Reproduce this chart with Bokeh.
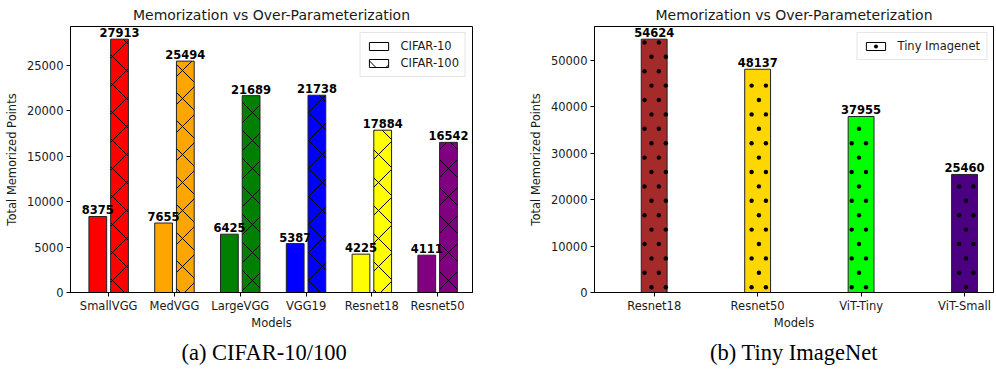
import numpy as np
from bokeh.plotting import figure
from bokeh.models import (Range1d, FixedTicker, SingleIntervalTicker, ColumnDataSource,
                          LabelSet, Legend, LegendItem, Title)
from bokeh.core.properties import value
from bokeh.layouts import row
from bokeh.embed import file_html
from bokeh.resources import INLINE

# ---------------- data ----------------
cifar_models = ["SmallVGG", "MedVGG", "LargeVGG", "VGG19", "Resnet18", "Resnet50"]
cifar10_points = [8375, 7655, 6425, 5387, 4225, 4111]
cifar100_points = [27913, 25494, 21689, 21738, 17884, 16542]
cifar_colors = ["red", "orange", "green", "blue", "yellow", "purple"]

tiny_models = ["Resnet18", "Resnet50", "ViT-Tiny", "ViT-Small"]
tiny_points = [54624, 48137, 37955, 25460]
tiny_colors = ["brown", "gold", "lime", "indigo"]

FONT = "DejaVu Sans"
TXT = "#1a1a1a"
H = 370
TOP, BOTTOM = 26, 78


def style(p):
    p.outline_line_color = "black"
    p.outline_line_width = 1
    p.grid.visible = False
    p.title.text_font = FONT
    p.title.text_font_size = "14px"
    p.title.text_font_style = "normal"
    p.title.text_color = TXT
    p.title.align = "center"
    p.title.standoff = 8
    for ax in (p.xaxis[0], p.yaxis[0]):
        ax.axis_line_color = "black"
        ax.major_tick_line_color = "black"
        ax.major_tick_out = 4
        ax.major_tick_in = 0
        ax.minor_tick_line_color = None
        ax.major_label_text_font = FONT
        ax.major_label_text_font_size = "11.5px"
        ax.major_label_text_color = TXT
        ax.major_label_standoff = 3
        ax.axis_label_text_font = FONT
        ax.axis_label_text_font_size = "11.5px"
        ax.axis_label_text_font_style = "normal"
        ax.axis_label_text_color = TXT
        ax.axis_label_standoff = 5
    p.xaxis.major_label_standoff = 2
    p.xaxis.axis_label_standoff = 0


def caption(p, text, align, offset):
    p.add_layout(Title(text=text, align=align, offset=offset, text_font="Liberation Serif",
                       text_font_size="22.5px", text_font_style="normal",
                       text_color="black", standoff=10), "below")


def legend(items):
    return Legend(items=items, location="top_right", margin=6, padding=6, spacing=3,
                  glyph_width=24, glyph_height=10, label_standoff=10,
                  label_text_font=FONT, label_text_font_size="11.5px",
                  label_text_color=TXT, border_line_color="#cccccc", label_height=14)


# ---------------- left panel ----------------
n1 = len(cifar_models)
idx1 = list(range(n1))
x10 = [i - 0.165 for i in idx1]
x100 = [i + 0.165 for i in idx1]

p1 = figure(width=500, height=H, output_backend="svg", toolbar_location=None,
            title="Memorization vs Over-Parameterization",
            x_range=Range1d(-0.58, n1 - 1 + 0.53),
            y_range=Range1d(0, max(cifar100_points) * 1.05),
            min_border_left=70, min_border_right=28, min_border_top=TOP,
            min_border_bottom=BOTTOM)
style(p1)

s10 = ColumnDataSource(dict(x=x10, top=cifar10_points, color=cifar_colors,
                            lab=[str(v) for v in cifar10_points]))
s100 = ColumnDataSource(dict(x=x100, top=cifar100_points, color=cifar_colors,
                             lab=[str(v) for v in cifar100_points]))
p1.vbar(x="x", top="top", width=0.27, source=s10, fill_color="color",
        line_color="#222222", line_width=1)
p1.vbar(x="x", top="top", width=0.27, source=s100, fill_color="color",
        line_color="#222222", line_width=1, hatch_pattern="diagonal_cross",
        hatch_color="black", hatch_scale=28, hatch_weight=1)

for s in (s10, s100):
    p1.add_layout(LabelSet(x="x", y="top", text="lab", source=s, text_align="center",
                           text_baseline="alphabetic", y_offset=2, text_font=value(FONT),
                           text_font_size=value("11.5px"), text_font_style="bold",
                           text_color="black"))

nan = float("nan")
leg1 = ColumnDataSource(dict(x=[nan], top=[nan]))
r_a = p1.vbar(x="x", top="top", width=0.27, source=leg1, fill_color="white",
              line_color="black")
r_b = p1.vbar(x="x", top="top", width=0.27, source=leg1, fill_color="white",
              line_color="black", hatch_pattern="diagonal_cross", hatch_color="black",
              hatch_scale=28, hatch_weight=1)
p1.add_layout(legend([LegendItem(label="CIFAR-10", renderers=[r_a]),
                      LegendItem(label="CIFAR-100", renderers=[r_b])]))

p1.xaxis.ticker = FixedTicker(ticks=idx1)
p1.xaxis.major_label_overrides = {i: m for i, m in enumerate(cifar_models)}
p1.yaxis.ticker = SingleIntervalTicker(interval=5000)
p1.xaxis.axis_label = "Models"
p1.yaxis.axis_label = "Total Memorized Points"
caption(p1, "(a) CIFAR-10/100", "left", 111)

# ---------------- right panel ----------------
n2 = len(tiny_models)
idx2 = list(range(n2))
W2, L2, R2 = 496, 94, 3
X0, X1 = -0.577, n2 - 1 + 0.28
Y1 = max(tiny_points) * 1.05
BW = 0.25

p2 = figure(width=W2, height=H, output_backend="svg", toolbar_location=None,
            title="Memorization vs Over-Parameterization",
            x_range=Range1d(X0, X1), y_range=Range1d(0, Y1),
            min_border_left=L2, min_border_right=R2, min_border_top=TOP,
            min_border_bottom=BOTTOM)
style(p2)

st = ColumnDataSource(dict(x=idx2, top=tiny_points, color=tiny_colors,
                           lab=[str(v) for v in tiny_points]))
p2.vbar(x="x", top="top", width=BW, source=st, fill_color="color",
        line_color="#222222", line_width=1)

# matplotlib-style '.' hatch: staggered dot lattice (pixel spacing) inside each bar
pxx = (W2 - L2 - R2) / (X1 - X0)
pxy = (H - TOP - BOTTOM) / Y1
dot_x, dot_y = [], []
for xc, top in zip(idx2, tiny_points):
    left = (xc - BW / 2 - X0) * pxx
    right = (xc + BW / 2 - X0) * pxx
    r = 0
    while 5.3 + 14.4 * r < top * pxy - 2:
        ypx = 5.3 + 14.4 * r
        phase = 14.1 if r % 2 == 0 else 7.1
        xs = phase + 14.3 * np.arange(-1, 40)
        xs = xs[(xs >= left + 0.8) & (xs <= right - 0.8)]
        dot_x.extend((X0 + xs / pxx).tolist())
        dot_y.extend([ypx / pxy] * len(xs))
        r += 1
r_dots = p2.scatter(x=dot_x, y=dot_y, marker="circle", size=4.4,
                    fill_color="black", line_color=None)

p2.add_layout(LabelSet(x="x", y="top", text="lab", source=st, text_align="center",
                       text_baseline="alphabetic", y_offset=2, text_font=value(FONT),
                       text_font_size=value("11.5px"), text_font_style="bold",
                       text_color="black"))

leg2 = ColumnDataSource(dict(x=[nan], top=[nan]))
r_c = p2.vbar(x="x", top="top", width=BW, source=leg2, fill_color="white",
              line_color="black")
p2.add_layout(legend([LegendItem(label="Tiny Imagenet", renderers=[r_c, r_dots])]))

p2.xaxis.ticker = FixedTicker(ticks=idx2)
p2.xaxis.major_label_overrides = {i: m for i, m in enumerate(tiny_models)}
p2.yaxis.ticker = SingleIntervalTicker(interval=10000)
p2.xaxis.axis_label = "Models"
p2.yaxis.axis_label = "Total Memorized Points"
caption(p2, "(b) Tiny ImageNet", "center", 0)

layout = row(p1, p2)
open("out.html", "w").write(file_html(layout, INLINE))
